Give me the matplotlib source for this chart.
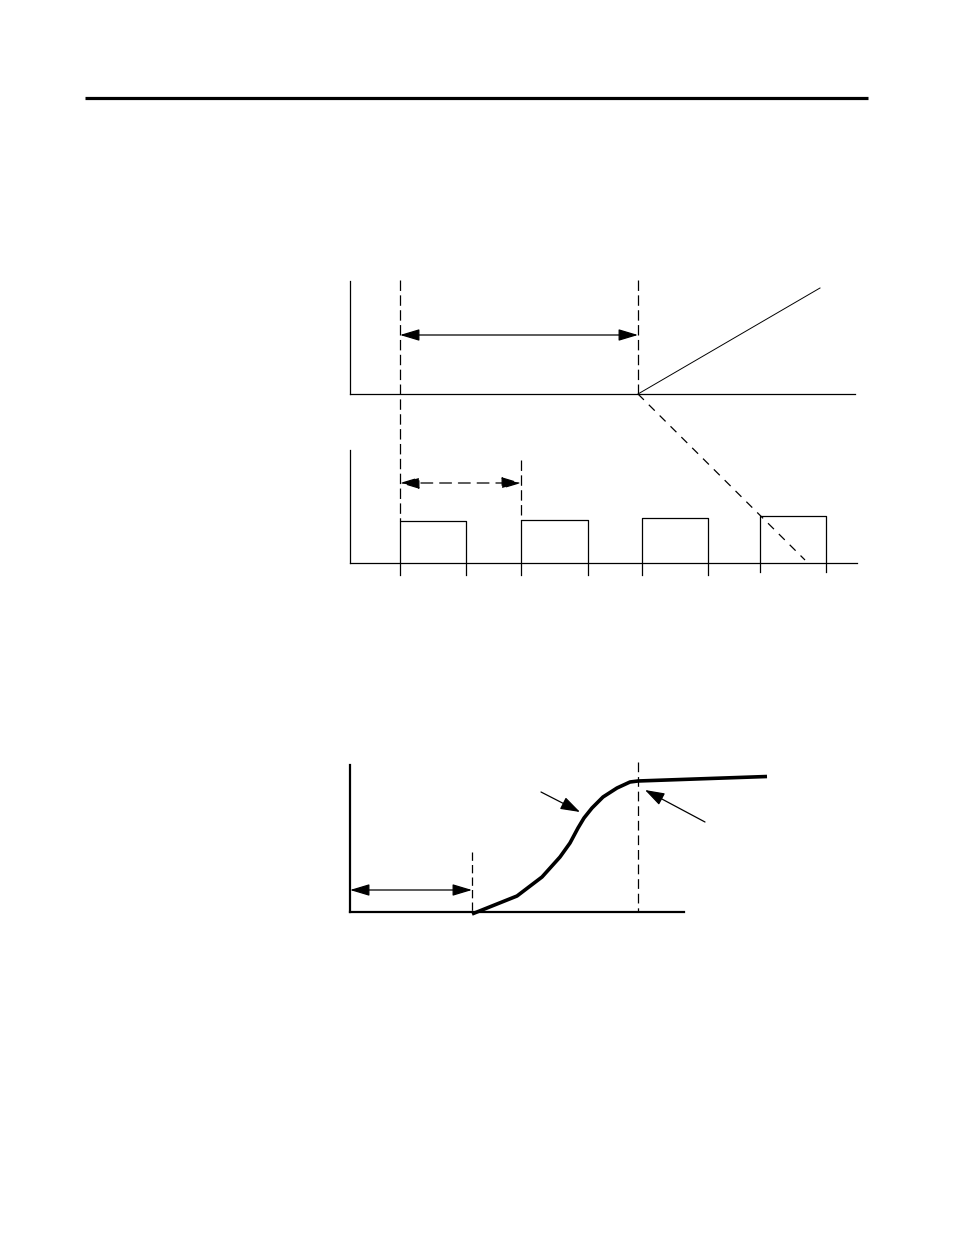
import matplotlib
matplotlib.use("Agg")
import matplotlib.pyplot as plt
from matplotlib.patches import FancyArrowPatch

plt.rcParams['lines.scale_dashes'] = False

W, H = 954, 1235

# ---- data (diagram coordinates, pixel space) ----
rule_x = [85, 868]
rule_y = 98

# upper panel
top_axis_x = 350
top_axis_ytop = 281
top_base_y = 394
top_base_xend = 855
mark_x = [400, 638]          # dashed marker lines
mark_ytop = 280
span_arrow_y = 335
ramp_x = [638, 820]
ramp_y = [394, 288]
diag_x = [638, 805]
diag_y = [394, 560]

# lower (pulse) panel
bot_axis_ytop = 450
bot_base_y = 563
bot_base_xend = 857
pulse_left = [400, 521, 642, 760]
pulse_right = [466, 588, 708, 826]
pulse_top = [521, 519.5, 518, 516]
pulse_tick_bottom = [575, 575, 575, 572]
period_mark_x = 521
period_mark_ytop = 460
period_arrow_y = 483

# response curve panel
c_axis_x = 350
c_axis_ytop = 765
c_base_y = 912
c_base_xend = 684
delay_x = 472
delay_ytop = 852
settle_x = 638
settle_ytop = 762
delay_arrow_y = 890
curve_x = [472, 517, 542, 560, 570, 578, 584, 592, 603, 617, 630, 638, 767]
curve_y = [914, 896, 877, 857, 843, 828, 818, 808, 797, 788, 782, 781, 776.5]
arrow1 = [(541, 792), (580, 812)]
arrow2 = [(705, 822), (645, 790)]

fig = plt.figure(figsize=(W / 100, H / 100), dpi=100)
ax = fig.add_axes([0, 0, 1, 1])
ax.set_xlim(0, W)
ax.set_ylim(H, 0)
ax.axis('off')

k = 'black'
thin = 0.9
dash_v = (7.5, 3.2)

# header rule
ax.plot(rule_x, [rule_y, rule_y], color=k, lw=2.3, solid_capstyle='butt')

# upper panel axes
ax.plot([top_axis_x, top_axis_x], [top_axis_ytop, top_base_y], color=k, lw=thin)
ax.plot([top_axis_x, top_base_xend], [top_base_y, top_base_y], color=k, lw=thin)
# dashed markers
ax.plot([mark_x[0], mark_x[0]], [mark_ytop, pulse_top[0]], color=k, lw=thin, dashes=dash_v)
ax.plot([mark_x[1], mark_x[1]], [mark_ytop, top_base_y], color=k, lw=thin, dashes=dash_v)
# span arrow
ax.add_patch(FancyArrowPatch((mark_x[0], span_arrow_y), (mark_x[1], span_arrow_y),
                             arrowstyle='<|-|>,head_length=0.6,head_width=0.18',
                             mutation_scale=20, color=k, lw=thin, shrinkA=0, shrinkB=0))
# ramp and dashed diagonal
ax.plot(ramp_x, ramp_y, color=k, lw=0.7)
ax.plot(diag_x, diag_y, color=k, lw=thin, dashes=(6, 5))

# pulse panel axes
ax.plot([top_axis_x, top_axis_x], [bot_axis_ytop, bot_base_y], color=k, lw=thin)
ax.plot([top_axis_x, bot_base_xend], [bot_base_y, bot_base_y], color=k, lw=thin)
for l, r, t, b in zip(pulse_left, pulse_right, pulse_top, pulse_tick_bottom):
    ax.plot([l, l, r, r], [b, t, t, b], color=k, lw=thin)
ax.plot([period_mark_x, period_mark_x], [period_mark_ytop, pulse_top[1]], color=k, lw=thin, dashes=dash_v)
ax.add_patch(FancyArrowPatch((mark_x[0], period_arrow_y), (period_mark_x, period_arrow_y),
                             arrowstyle='<|-|>,head_length=0.6,head_width=0.18',
                             mutation_scale=20, color=k, lw=thin, shrinkA=0, shrinkB=0,
                             linestyle=(0, (8.5, 5))))

# response panel
ax.plot([c_axis_x, c_axis_x], [c_axis_ytop, c_base_y], color=k, lw=1.6)
ax.plot([c_axis_x, c_base_xend], [c_base_y, c_base_y], color=k, lw=1.6)
ax.plot([delay_x, delay_x], [delay_ytop, c_base_y], color=k, lw=thin, dashes=(6, 3))
ax.plot([settle_x, settle_x], [settle_ytop, c_base_y], color=k, lw=thin, dashes=(7, 3.5))
ax.add_patch(FancyArrowPatch((c_axis_x, delay_arrow_y), (delay_x, delay_arrow_y),
                             arrowstyle='<|-|>,head_length=0.6,head_width=0.18',
                             mutation_scale=20, color=k, lw=thin, shrinkA=0, shrinkB=0))
ax.plot(curve_x, curve_y, color=k, lw=2.6, solid_joinstyle='round', solid_capstyle='butt')
for (p0, p1) in (arrow1, arrow2):
    ax.add_patch(FancyArrowPatch(p0, p1,
                                 arrowstyle='-|>,head_length=0.6,head_width=0.2',
                                 mutation_scale=20, color=k, lw=thin, shrinkA=0, shrinkB=0))

fig.savefig('out.png', dpi=100, facecolor='white')
